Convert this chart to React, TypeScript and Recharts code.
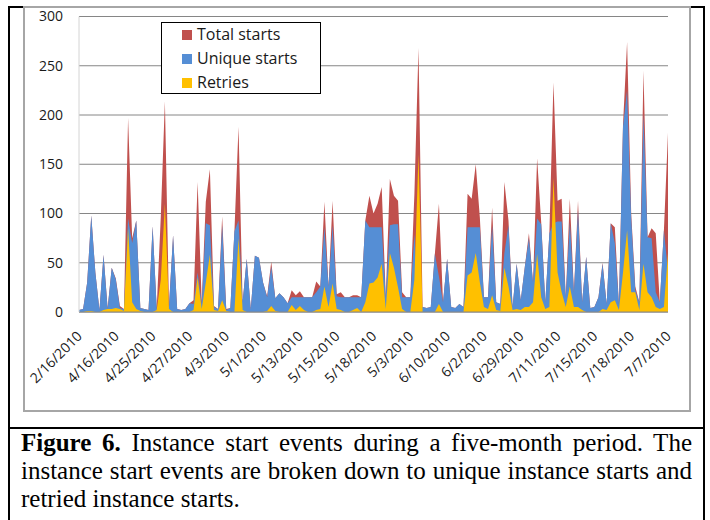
import { AreaChart, Area, XAxis, YAxis, CartesianGrid, Legend } from 'recharts'

const tickLabels = [
  '2/16/2010', '4/16/2010', '4/25/2010', '4/27/2010', '4/3/2010', '5/1/2010',
  '5/13/2010', '5/15/2010', '5/18/2010', '5/3/2010', '6/10/2010', '6/2/2010',
  '6/29/2010', '7/11/2010', '7/15/2010', '7/18/2010', '7/7/2010',
]
const labelEvery = 9

const totalStarts = [
  2, 3, 30, 98, 40, 2, 58, 4, 45, 34, 6, 3, 197, 75, 93, 4, 3, 2, 87, 4,
  97, 214, 6, 78, 3, 2, 3, 9, 12, 132, 10, 112, 145, 6, 3, 97, 3, 4, 82, 188,
  10, 54, 3, 57, 55, 30, 16, 51, 14, 19, 15, 9, 22, 17, 21, 15, 15, 15, 31, 26,
  112, 26, 113, 18, 20, 15, 15, 17, 17, 15, 93, 118, 100, 110, 127, 15, 135, 118, 113, 20,
  15, 15, 120, 268, 5, 4, 5, 59, 110, 10, 54, 5, 4, 8, 5, 120, 115, 150, 96, 15,
  15, 106, 10, 8, 132, 93, 5, 49, 12, 46, 80, 30, 156, 91, 10, 80, 233, 113, 115, 15,
  115, 20, 113, 10, 56, 4, 5, 15, 50, 8, 90, 86, 8, 190, 274, 100, 26, 10, 245, 76,
  85, 80, 10, 83, 182,
]
const uniqueStarts = [
  2, 3, 30, 98, 40, 2, 58, 3, 45, 33, 4, 3, 95, 70, 93, 4, 3, 2, 87, 3,
  10, 8, 5, 78, 3, 2, 3, 9, 8, 40, 8, 90, 88, 5, 3, 88, 2, 4, 82, 93,
  10, 54, 3, 57, 55, 30, 15, 46, 14, 19, 15, 9, 15, 15, 15, 15, 15, 15, 20, 26,
  86, 26, 88, 16, 15, 15, 15, 15, 15, 15, 93, 86, 86, 86, 86, 15, 88, 89, 89, 15,
  15, 15, 79, 5, 5, 4, 5, 59, 36, 10, 54, 5, 4, 8, 5, 86, 86, 86, 86, 15,
  15, 88, 10, 8, 60, 88, 5, 49, 12, 46, 75, 30, 95, 89, 10, 80, 90, 92, 92, 15,
  91, 20, 103, 10, 56, 4, 5, 15, 49, 8, 90, 70, 8, 188, 225, 95, 22, 10, 201, 76,
  75, 20, 10, 83, 40,
]
const retries = [
  0, 0, 1, 1, 0, 0, 2, 3, 3, 4, 3, 1, 85, 10, 3, 1, 0, 0, 0, 2,
  33, 110, 3, 0, 0, 0, 0, 0, 2, 35, 3, 30, 58, 2, 1, 12, 1, 0, 0, 75,
  2, 0, 0, 0, 0, 0, 1, 6, 1, 0, 0, 0, 7, 2, 6, 2, 0, 0, 2, 3,
  26, 5, 29, 3, 2, 0, 0, 2, 4, 0, 10, 29, 30, 35, 49, 3, 60, 45, 25, 3,
  0, 0, 33, 160, 0, 0, 0, 0, 8, 0, 0, 0, 0, 0, 0, 37, 40, 60, 30, 5,
  3, 17, 2, 1, 45, 26, 2, 3, 2, 5, 5, 10, 59, 15, 3, 5, 136, 40, 20, 5,
  26, 5, 5, 2, 0, 0, 0, 0, 3, 2, 10, 12, 2, 40, 83, 20, 20, 2, 49, 20,
  15, 5, 3, 5, 60,
]

const data = totalStarts.map((t, i) => ({
  i,
  total: t,
  unique: uniqueStarts[i],
  retries: retries[i],
}))

const xTicks = tickLabels.map((_, k) => k * labelEvery)
const yTicks = [0, 50, 100, 150, 200, 250, 300]

const RED = '#C0504D'
const BLUE = '#558ED5'
const YELLOW = '#FFC000'
const tickFont = "'Open Sans', sans-serif"

const legendOrder = ['Total starts', 'Unique starts', 'Retries']

function DateTick(props: any) {
  const { x, y, payload } = props
  const label = tickLabels[Math.round(payload.value / labelEvery)]
  return (
    <g transform={`translate(${x + 4},${y + 25})`}>
      <text textAnchor="end" transform="rotate(-45)" fontSize={14} fontFamily={tickFont} fill="#1a1a1a">
        {label}
      </text>
    </g>
  )
}

function LegendBox(props: any) {
  const items = [...(props.payload || [])].sort(
    (a: any, b: any) => legendOrder.indexOf(a.value) - legendOrder.indexOf(b.value)
  )
  return (
    <div
      style={{
        width: 160,
        height: 72,
        boxSizing: 'border-box',
        border: '1px solid #000',
        background: '#fff',
        fontFamily: tickFont,
        fontSize: 16,
        color: '#1a1a1a',
      }}
    >
      {items.map((it: any) => (
        <div key={it.value} style={{ height: 24, lineHeight: '24px', position: 'relative', whiteSpace: 'nowrap' }}>
          <span style={{ position: 'absolute', left: 20, top: 7, width: 10, height: 10, background: it.color }} />
          <span style={{ position: 'absolute', left: 35, top: -1 }}>{it.value}</span>
        </div>
      ))}
    </div>
  )
}

export default function App() {
  return (
    <div
      style={{
        position: 'absolute',
        left: 8,
        top: 6,
        width: 697,
        boxSizing: 'border-box',
        border: '2px solid #000',
        borderBottom: 'none',
        background: '#fff',
      }}
    >
      <div style={{ position: 'relative', height: 419 }}>
        <div
          style={{
            position: 'absolute',
            left: 13,
            top: -2,
            width: 668,
            height: 406,
            boxSizing: 'border-box',
            border: '2px solid #A6A6A6',
          }}
        />
        <div style={{ position: 'absolute', left: 13, top: 0 }}>
          <AreaChart
            width={668}
            height={404}
            data={data}
            margin={{ top: 8.5, right: 23, bottom: 0, left: 0 }}
            style={{ overflow: 'visible' }}
          >
            <CartesianGrid vertical={false} stroke="#868686" strokeWidth={1} />
            <XAxis
              dataKey="i"
              type="number"
              domain={[0, totalStarts.length - 1]}
              ticks={xTicks}
              interval={0}
              height={100}
              tickSize={0}
              tickMargin={0}
              tickLine={false}
              axisLine={{ stroke: '#868686' }}
              tick={<DateTick />}
            />
            <YAxis
              type="number"
              domain={[0, 300]}
              ticks={yTicks}
              width={56}
              tickSize={0}
              tickMargin={16}
              tickLine={false}
              axisLine={{ stroke: '#D4D4D4' }}
              tick={{ fontSize: 14, fontFamily: tickFont, fill: '#1a1a1a' }}
            />
            <Legend
              layout="horizontal"
              verticalAlign="middle"
              align="center"
              content={<LegendBox />}
              wrapperStyle={{ left: 138, top: 14, width: 160, height: 72 }}
            />
            <Area type="linear" dataKey="total" name="Total starts" stroke="none" fill={RED} fillOpacity={1} dot={false} activeDot={false} isAnimationActive={false} />
            <Area type="linear" dataKey="unique" name="Unique starts" stroke="none" fill={BLUE} fillOpacity={1} dot={false} activeDot={false} isAnimationActive={false} />
            <Area type="linear" dataKey="retries" name="Retries" stroke="none" fill={YELLOW} fillOpacity={1} dot={false} activeDot={false} isAnimationActive={false} />
          </AreaChart>
        </div>
      </div>
      <div
        style={{
          borderTop: '2px solid #000',
          height: 100,
          padding: '0 11px',
          fontFamily: "'Liberation Serif', 'Times New Roman', serif",
          fontSize: 25,
          lineHeight: '28px',
          textAlign: 'justify',
          color: '#000',
        }}
      >
        <b>Figure 6.</b> Instance start events during a five-month period. The instance start events are broken down
        to unique instance starts and retried instance starts.
      </div>
    </div>
  )
}
